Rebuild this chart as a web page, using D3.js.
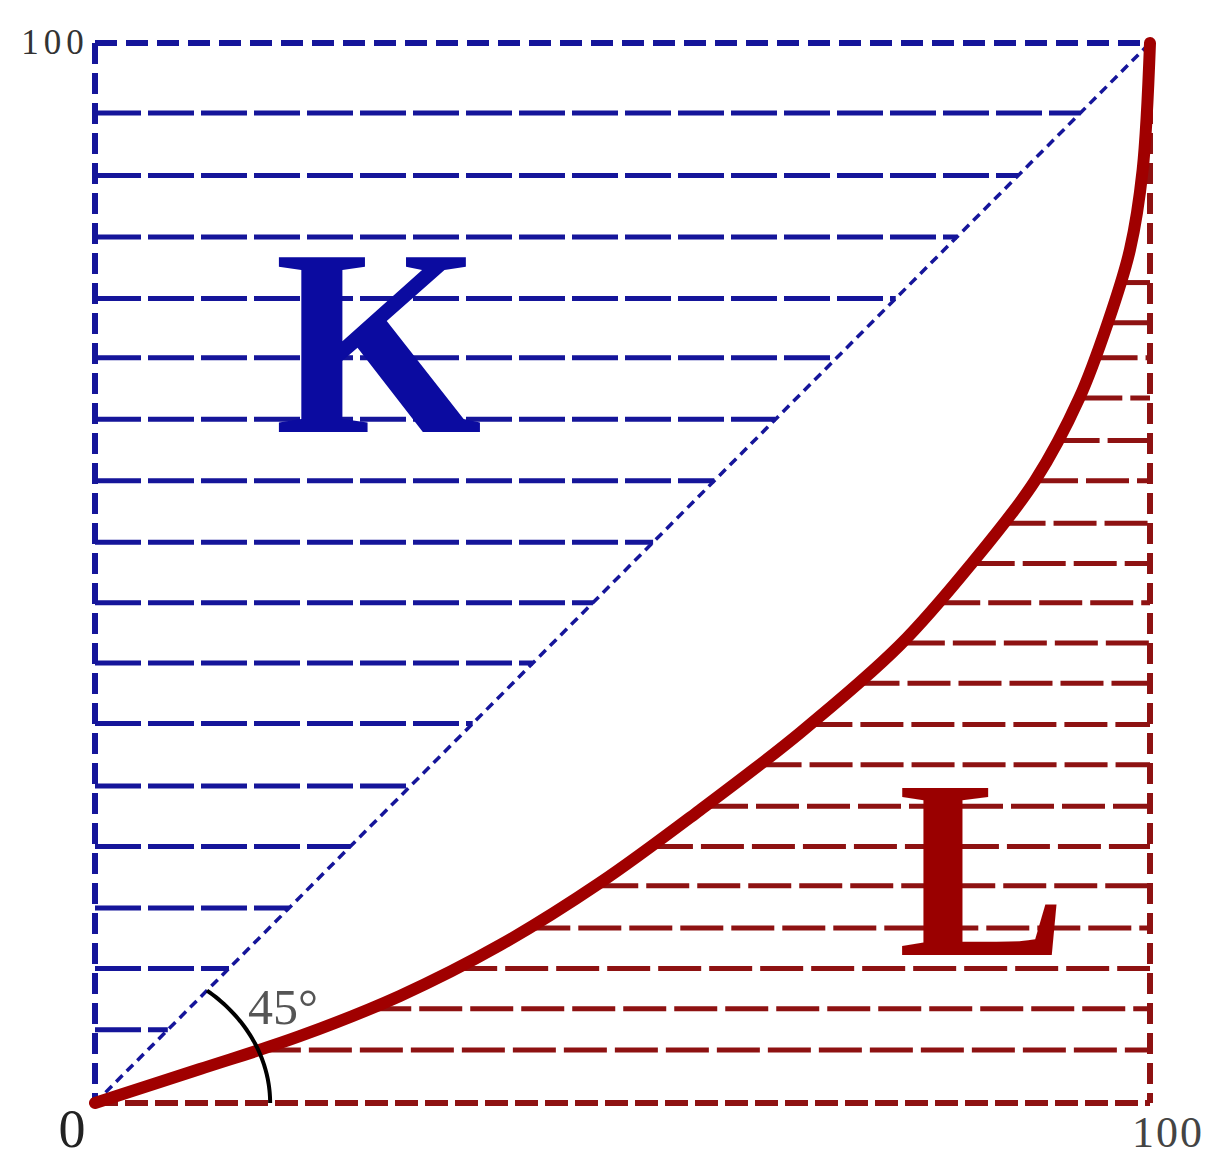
<!DOCTYPE html>
<html lang="en">
    <head>
        <meta charset="UTF-8">
        <title>Lorenz curve</title>
        <script src="https://d3js.org/d3.v7.min.js"></script>
        <style>
            body {
                margin: 0;
                background: white;
            }
            svg {
                display: block;
            }
            text {
                font-family: "Liberation Serif", "DejaVu Serif", serif;
            }
        </style>
    </head>
    <body>
        <script>
            // cumulative % of population vs cumulative % of income
            const lorenzPop = [0, 9.95, 19.4, 28.9, 38.4, 47.9, 57.3, 66.8, 76.3, 83.1, 89.1, 93.3, 96.0, 98.1, 99.3, 100]
            const lorenzInc = [0, 3.2, 6.3, 10.1, 14.9, 20.8, 27.6, 34.9, 43.2, 50.9, 58.7, 66.5, 73.6, 80.5, 88, 100]

            // hatch levels (in %)
            const blueLevels = [6.9, 12.7, 18.4, 24.2, 29.9, 35.8, 41.5, 47.2, 52.9, 58.7, 64.5, 70.3, 75.9, 81.7, 87.5, 93.4]
            const redLevels = [5.0, 8.9, 12.7, 16.5, 20.5, 24.2, 28.0, 31.9, 35.7, 39.6, 43.4, 47.2, 50.9, 54.7, 58.7, 62.5, 66.5, 70.3, 73.6, 77.4]

            const tickLabels = ["0", "100"]

            const width = 1228
            const height = 1166
            const blue = "#15159a"
            const red = "#8e1212"

            let svg = d3.select("body").append("svg")
                .attr("width", width)
                .attr("height", height)

            const x = d3.scaleLinear().domain([0, 100]).range([95, 1150])
            const y = d3.scaleLinear().domain([0, 100]).range([1103, 43])

            // x of curve for a given income level
            const popAtInc = d3.scaleLinear().domain(lorenzInc).range(lorenzPop)

            const g = svg.append("g")

            // blue hatch: from left edge to the diagonal
            g.selectAll(".blue")
                .data(blueLevels)
                .enter()
                .append("line")
                .attr("class", "blue")
                .attr("x1", x(0))
                .attr("x2", d => x(d))
                .attr("y1", d => y(d))
                .attr("y2", d => y(d))
                .attr("stroke", blue)
                .attr("stroke-width", 5)
                .attr("stroke-dasharray", "46 7")

            // red hatch: from the curve to the right edge
            g.selectAll(".red")
                .data(redLevels)
                .enter()
                .append("line")
                .attr("class", "red")
                .attr("x1", d => x(popAtInc(d)))
                .attr("x2", x(100))
                .attr("y1", d => y(d))
                .attr("y2", d => y(d))
                .attr("stroke", red)
                .attr("stroke-width", 5)
                .attr("stroke-dasharray", "43 8")

            // frame
            g.append("line")
                .attr("x1", x(0)).attr("x2", x(100))
                .attr("y1", y(100)).attr("y2", y(100))
                .attr("stroke", blue).attr("stroke-width", 6)
                .attr("stroke-dasharray", "22 9")
            g.append("line")
                .attr("x1", x(0)).attr("x2", x(0))
                .attr("y1", y(100)).attr("y2", y(0))
                .attr("stroke", blue).attr("stroke-width", 6)
                .attr("stroke-dasharray", "21 9")
            g.append("line")
                .attr("x1", x(100)).attr("x2", x(100))
                .attr("y1", y(100)).attr("y2", y(0))
                .attr("stroke", red).attr("stroke-width", 6)
                .attr("stroke-dasharray", "21 9")
            g.append("line")
                .attr("x1", x(0)).attr("x2", x(100))
                .attr("y1", y(0)).attr("y2", y(0))
                .attr("stroke", red).attr("stroke-width", 6)
                .attr("stroke-dasharray", "23 7")

            // line of equality
            g.append("line")
                .attr("x1", x(0)).attr("x2", x(100))
                .attr("y1", y(0)).attr("y2", y(100))
                .attr("stroke", blue)
                .attr("stroke-width", 3.5)
                .attr("stroke-dasharray", "9 6")

            // lorenz curve
            const curvePts = lorenzPop.map((p, i) => [p, lorenzInc[i]])
            g.append("path")
                .datum(curvePts)
                .attr("fill", "none")
                .attr("stroke", "#a00000")
                .attr("stroke-width", 12)
                .attr("stroke-linecap", "round")
                .attr("d", d3.line()
                    .x(d => x(d[0]))
                    .y(d => y(d[1]))
                    .curve(d3.curveCatmullRom.alpha(0.5)))

            // 45 degree arc (slightly elliptical like the original)
            const arcRx = 16.6
            const arcRy = 13.8
            const tEnd = Math.atan(arcRx / arcRy)
            const arcPts = d3.range(0, 41).map(i => {
                const t = tEnd * i / 40
                return [arcRx * Math.cos(t), arcRy * Math.sin(t)]
            })
            g.append("path")
                .datum(arcPts)
                .attr("fill", "none")
                .attr("stroke", "black")
                .attr("stroke-width", 4)
                .attr("d", d3.line().x(d => x(d[0])).y(d => y(d[1])))

            g.append("text")
                .attr("x", x(14.5))
                .attr("y", y(7.5))
                .attr("font-size", 50)
                .attr("fill", "#555")
                .text("45°")

            // axis labels
            g.append("text")
                .attr("x", x(0) - 23)
                .attr("y", y(0) + 44)
                .attr("text-anchor", "middle")
                .attr("font-size", 54)
                .attr("fill", "#222")
                .text(tickLabels[0])
            g.append("text")
                .attr("x", x(100) + 18)
                .attr("y", y(0) + 44)
                .attr("text-anchor", "middle")
                .attr("font-size", 44)
                .attr("letter-spacing", 2)
                .attr("fill", "#444")
                .text(tickLabels[1])
            g.append("text")
                .attr("x", x(0) - 40)
                .attr("y", y(100) + 11)
                .attr("text-anchor", "middle")
                .attr("font-size", 35)
                .attr("letter-spacing", 5)
                .attr("fill", "#333")
                .text(tickLabels[1])

            // region letters
            g.append("text")
                .attr("x", x(17))
                .attr("y", y(63.3))
                .attr("font-size", 267)
                .attr("font-weight", "bold")
                .attr("fill", "#0b0ba0")
                .text("K")
            g.append("text")
                .attr("x", x(76.1))
                .attr("y", y(14))
                .attr("font-size", 254)
                .attr("font-weight", "bold")
                .attr("fill", "#9a0000")
                .text("L")
        </script>
    </body>
</html>
